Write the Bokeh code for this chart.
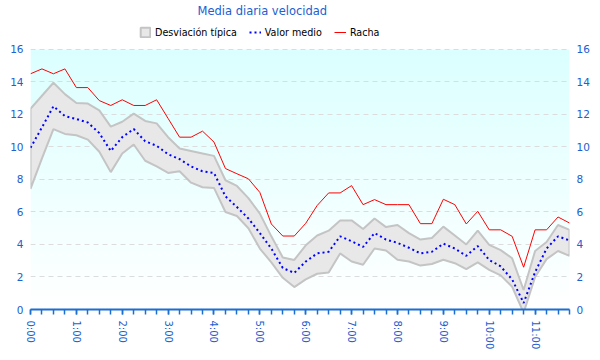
from bokeh.plotting import figure
from bokeh.models import (Range1d, FixedTicker, LinearAxis, Legend, LegendItem, BoxAnnotation)
from bokeh.embed import file_html
from bokeh.resources import INLINE

# ---- data (15-minute steps from 0:00 to 11:45) ----
minutes = list(range(0, 48 * 15, 15))
hours = [m / 60 for m in minutes]

racha = [14.5, 14.8, 14.5, 14.8, 13.65, 13.65, 12.85, 12.55, 12.9, 12.55, 12.55, 12.9,
         11.75, 10.6, 10.6, 10.97, 10.3, 8.67, 8.35, 8.04, 7.2, 5.26, 4.52, 4.52,
         5.3, 6.4, 7.17, 7.17, 7.62, 6.45, 6.76, 6.45, 6.45, 6.45, 5.28, 5.28,
         6.78, 6.45, 5.26, 6.04, 4.9, 4.9, 4.5, 2.6, 4.9, 4.9, 5.69, 5.32]

media = [9.95, 11.2, 12.5, 11.9, 11.72, 11.5, 10.85, 9.75, 10.6, 11.1, 10.35, 10.07,
         9.55, 9.25, 8.8, 8.5, 8.4, 6.96, 6.3, 5.6, 4.7, 3.75, 2.55, 2.25,
         2.95, 3.45, 3.55, 4.5, 4.2, 3.85, 4.7, 4.3, 4.1, 3.8, 3.45, 3.55,
         4.05, 3.75, 3.3, 3.9, 3.05, 2.65, 1.85, 0.4, 2.3, 3.75, 4.5, 4.25]

desv_sup = [12.35, 13.15, 13.95, 13.25, 12.7, 12.67, 12.25, 11.25, 11.55, 12.05, 11.6, 11.45,
            10.6, 9.9, 9.75, 9.6, 9.45, 7.95, 7.6, 6.85, 5.9, 4.5, 3.2, 3.05,
            3.95, 4.55, 4.85, 5.48, 5.48, 4.95, 5.6, 5.07, 5.2, 4.7, 4.3, 4.4,
            5.1, 4.55, 4.0, 4.85, 3.98, 3.65, 3.15, 1.2, 3.6, 4.15, 5.2, 4.9]

desv_inf = [7.42, 9.3, 11.1, 10.8, 10.72, 10.45, 9.7, 8.45, 9.6, 10.15, 9.15, 8.8,
            8.4, 8.5, 7.8, 7.52, 7.48, 6.0, 5.75, 5.0, 3.75, 2.9, 1.95, 1.38,
            1.85, 2.2, 2.27, 3.45, 2.95, 2.75, 3.75, 3.63, 3.06, 2.95, 2.7, 2.8,
            3.06, 2.85, 2.48, 2.9, 2.44, 2.1, 1.4, -0.2, 2.0, 3.1, 3.6, 3.3]

tick_hours = list(range(12))
tick_labels = [f"{h}:00" for h in tick_hours]
minor_hours = [m / 60 for m in minutes]
y_ticks = list(range(0, 17, 2))
y_top = 17.9  # headroom above 16 holds the legend row

TXT_BLUE = "#2060d0"
FONT = "DejaVu Sans"

p = figure(width=592, height=352, output_backend="svg", toolbar_location=None,
           x_range=Range1d(hours[0], hours[-1]), y_range=Range1d(y_ticks[0], y_top),
           min_border_left=30, min_border_right=20, min_border_bottom=0, min_border_top=0)
p.outline_line_color = None
p.background_fill_color = "white"
p.border_fill_color = "white"

# gradient background (cyan at top to white at bottom), drawn as thin bands
n_bands = 40
y0, y1 = y_ticks[0], y_ticks[-1]
step = (y1 - y0) / n_bands
for k in range(n_bands):
    tt = (k + 0.5) / n_bands  # 0 bottom, 1 top
    red = int(round(255 - 36 * tt))
    col = "#%02x%02x%02x" % (red, 255, 255)
    top = y0 + (k + 1) * step + (step * 0.05 if k < n_bands - 1 else 0)
    p.add_layout(BoxAnnotation(bottom=y0 + k * step, top=top,
                               fill_color=col, fill_alpha=1.0, line_color=None,
                               level="image"))

# std band as a polygon (upper edge then lower edge reversed)
band_x = hours + hours[::-1]
band_y = desv_sup + desv_inf[::-1]
r_band = p.patch(band_x, band_y, fill_color="#e8e8e8", line_color="#c4c4c4", line_width=2)

r_racha = p.line(hours, racha, line_color="#ff0000", line_width=1)
r_media = p.line(hours, media, line_color="#0000ff", line_width=2, line_dash="2 3")

# grid
p.xgrid.visible = False
p.ygrid.ticker = FixedTicker(ticks=y_ticks)
p.ygrid.grid_line_color = "#dcdcdc"
p.ygrid.grid_line_dash = "5 4"

# y axes
yl = p.yaxis[0]
yl.ticker = FixedTicker(ticks=y_ticks)
yr = LinearAxis(ticker=FixedTicker(ticks=y_ticks))
p.add_layout(yr, "right")
for ax in (yl, yr):
    ax.axis_label = None
    ax.axis_line_color = None
    ax.major_tick_line_color = None
    ax.minor_tick_line_color = None
    ax.major_tick_in = 0
    ax.major_tick_out = 0
    ax.minor_tick_in = 0
    ax.minor_tick_out = 0
    ax.major_label_text_color = TXT_BLUE
    ax.major_label_text_font = FONT
    ax.major_label_text_font_size = "10.5px"
    ax.major_label_standoff = 7

# bottom axis
xa = p.xaxis[0]
xa.axis_label = None
xa.ticker = FixedTicker(ticks=tick_hours, minor_ticks=minor_hours)
xa.major_label_overrides = {h: lab for h, lab in zip(tick_hours, tick_labels)}
xa.major_label_orientation = "vertical"
xa.axis_line_color = "#1a6fd0"
xa.axis_line_width = 2
xa.major_tick_line_color = "#1a6fd0"
xa.minor_tick_line_color = "#1a6fd0"
xa.major_tick_line_width = 1.5
xa.minor_tick_line_width = 1.5
xa.major_tick_in = 0
xa.major_tick_out = 5
xa.minor_tick_in = 0
xa.minor_tick_out = 5
xa.major_label_text_color = TXT_BLUE
xa.major_label_text_font = FONT
xa.major_label_text_font_size = "10px"
xa.major_label_standoff = 6

# legend (in the headroom at the top of the frame)
legend = Legend(items=[
    LegendItem(label="Desviación típica", renderers=[r_band]),
    LegendItem(label="Valor medio", renderers=[r_media]),
    LegendItem(label="Racha", renderers=[r_racha]),
], orientation="horizontal", location=(107, 269))
legend.label_text_font = FONT
legend.label_text_font_size = "9.6px"
legend.label_text_color = "#000000"
legend.glyph_width = 12
legend.glyph_height = 12
legend.label_standoff = 4
legend.spacing = 12
legend.padding = 2
legend.margin = 0
legend.border_line_alpha = 0
legend.background_fill_alpha = 0
p.add_layout(legend, "center")

# title
p.title.text = "Media diaria velocidad"
p.title.align = "left"
p.title.offset = 167
p.title.text_color = TXT_BLUE
p.title.text_font = FONT
p.title.text_font_size = "11.5px"
p.title.text_font_style = "normal"
p.title.standoff = 2

open("out.html", "w").write(file_html(p, INLINE))
